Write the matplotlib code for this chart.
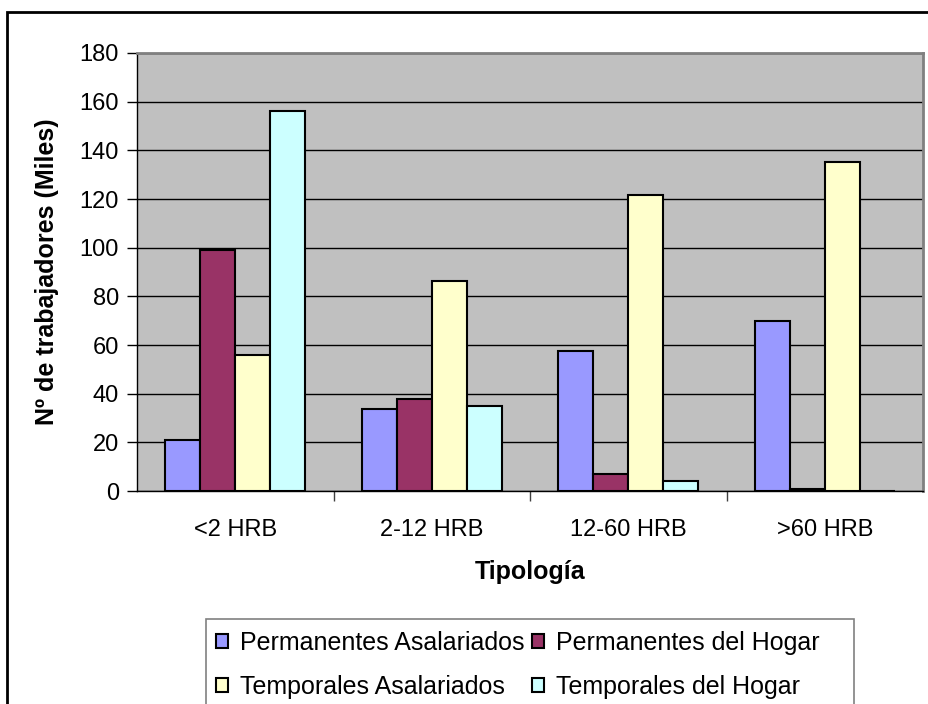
import numpy as np
import matplotlib.pyplot as plt
from matplotlib.patches import Rectangle

plt.rcParams['font.family'] = ['Liberation Sans', 'DejaVu Sans']

categorias = ["<2 HRB", "2-12 HRB", "12-60 HRB", ">60 HRB"]
series = ["Permanentes Asalariados", "Permanentes del Hogar",
          "Temporales Asalariados", "Temporales del Hogar"]
perm_asal = [21, 33.5, 57.5, 70]
perm_hogar = [99, 38, 7, 1]
temp_asal = [56, 86.5, 121.5, 135]
temp_hogar = [156, 35, 4, 0]
colores = ["#9999FF", "#993366", "#FFFFCC", "#CCFFFF"]

valores = [perm_asal, perm_hogar, temp_asal, temp_hogar]

fig = plt.figure(figsize=(9.29, 7.04), dpi=100)
ax = fig.add_axes([137 / 929, 1 - 491 / 704, (923 - 137) / 929, (491 - 53) / 704])
ax.set_facecolor("#C0C0C0")

x = np.arange(len(categorias))
ancho = 0.178
barras = []
for i, (vals, nombre, col) in enumerate(zip(valores, series, colores)):
    b = ax.bar(x + (i - 1.5) * ancho, vals, ancho, color=col, edgecolor="black",
               linewidth=1.5, label=nombre, zorder=3)
    barras.append(b)

ax.set_xlim(-0.5, 3.5)
ax.set_ylim(0, 180)
ax.set_yticks(range(0, 181, 20))
ax.yaxis.grid(True, color="black", linewidth=1, zorder=1)
ax.tick_params(axis="y", labelsize=17, length=7, width=1, pad=6)

ax.set_xticks(x)
ax.set_xticklabels(categorias, fontsize=17)
ax.set_xticks([0.5, 1.5, 2.5], minor=True)
ax.tick_params(axis="x", which="major", length=0, pad=20)
ax.tick_params(axis="x", which="minor", length=7, width=1, color="#404040")

for lado in ["top", "right"]:
    ax.spines[lado].set_color("#808080")
    ax.spines[lado].set_linewidth(2)
for lado in ["left", "bottom"]:
    ax.spines[lado].set_color("black")
    ax.spines[lado].set_linewidth(1)

ax.set_xlabel("Tipología", fontsize=18, fontweight="bold", labelpad=14)
ax.set_ylabel("Nº de trabajadores (Miles)", fontsize=18, fontweight="bold", labelpad=15)

# marco exterior del gráfico
fig.add_artist(Rectangle((7 / 929, -0.2), 2, 1.2 - 12 / 704, transform=fig.transFigure,
                         fill=False, edgecolor="black", linewidth=2, clip_on=False))
# caja de la leyenda
fig.add_artist(Rectangle((206 / 929, -0.2), (854 - 206) / 929, 0.2 + 1 - 619 / 704,
                         transform=fig.transFigure, fill=False, edgecolor="#808080",
                         linewidth=1.2, clip_on=False))

# orden por columnas para que las filas queden: PA PH / TA TH
orden = [0, 2, 1, 3]
fig.legend([barras[k] for k in orden], [series[k] for k in orden],
           loc="upper left", bbox_to_anchor=(206 / 929, 1 - 621 / 704), ncol=2,
           frameon=False, fontsize=18, handlelength=0.5, handleheight=0.5,
           handletextpad=0.45, columnspacing=0.3, labelspacing=0.8, borderaxespad=0)

fig.savefig("out.png", dpi=100)
